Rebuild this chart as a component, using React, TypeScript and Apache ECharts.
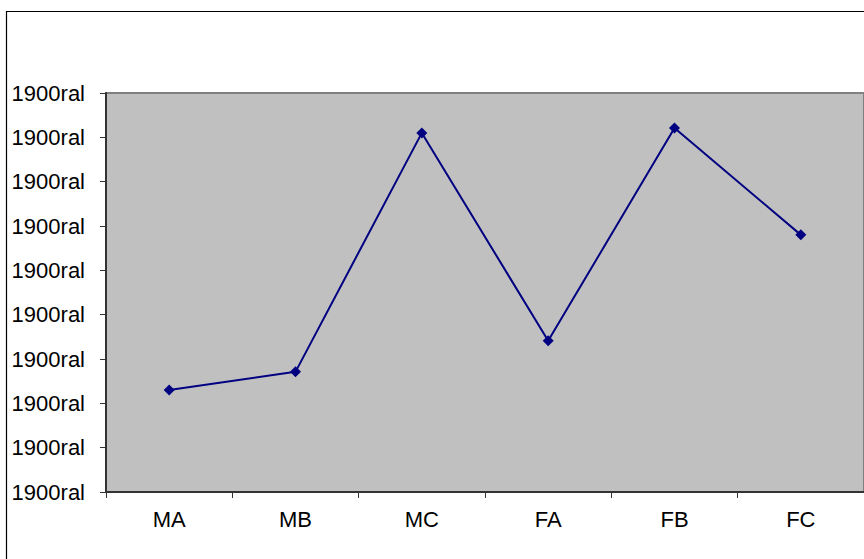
import React, { useEffect, useRef } from "react";
import * as echarts from "echarts";

const categories = ["MA", "MB", "MC", "FA", "FB", "FC"];
const values = [2.3, 2.71, 8.1, 3.41, 8.21, 5.8];
const tickLabel = "1900ral";

export default function App() {
  const ref = useRef<HTMLDivElement>(null);
  useEffect(() => {
    const chart = echarts.init(ref.current!, null, { renderer: "svg" });
    chart.setOption({
      animation: false,
      backgroundColor: "#ffffff",
      textStyle: { fontFamily: "Liberation Sans, Arial, sans-serif" },
      graphic: [
        {
          type: "rect",
          shape: { x: 6.5, y: 11.5, width: 900, height: 600 },
          style: { fill: "none", stroke: "#000", lineWidth: 1.2 },
          silent: true,
          z: 100,
        },
      ],
      grid: {
        left: 106,
        top: 93,
        width: 759,
        height: 399,
        show: true,
        backgroundColor: "#C0C0C0",
        borderColor: "#808080",
        borderWidth: 2,
      },
      xAxis: {
        type: "category",
        data: categories,
        boundaryGap: true,
        axisLine: { show: true, lineStyle: { color: "#333", width: 2 } },
        axisTick: { show: true, length: 6, lineStyle: { color: "#333" } },
        axisLabel: { color: "#000", fontSize: 22, margin: 16, fontFamily: "Liberation Sans, Arial, sans-serif" },
        splitLine: { show: false },
      },
      yAxis: {
        type: "value",
        min: 0,
        max: 9,
        interval: 1,
        axisLine: { show: true, lineStyle: { color: "#333", width: 2 } },
        axisTick: { show: true, length: 6, lineStyle: { color: "#333" } },
        axisLabel: {
          color: "#000",
          fontSize: 22,
          margin: 21,
          fontFamily: "Liberation Sans, Arial, sans-serif",
          formatter: () => tickLabel,
        },
        splitLine: { show: false },
      },
      series: [
        {
          type: "line",
          data: values,
          symbol: "diamond",
          symbolSize: 11,
          itemStyle: { color: "#000080" },
          lineStyle: { color: "#000080", width: 2 },
        },
      ],
    });
    return () => chart.dispose();
  }, []);
  return (
    <div
      ref={ref}
      style={{ position: "fixed", left: 0, top: 0, width: 864, height: 559 }}
    />
  );
}
